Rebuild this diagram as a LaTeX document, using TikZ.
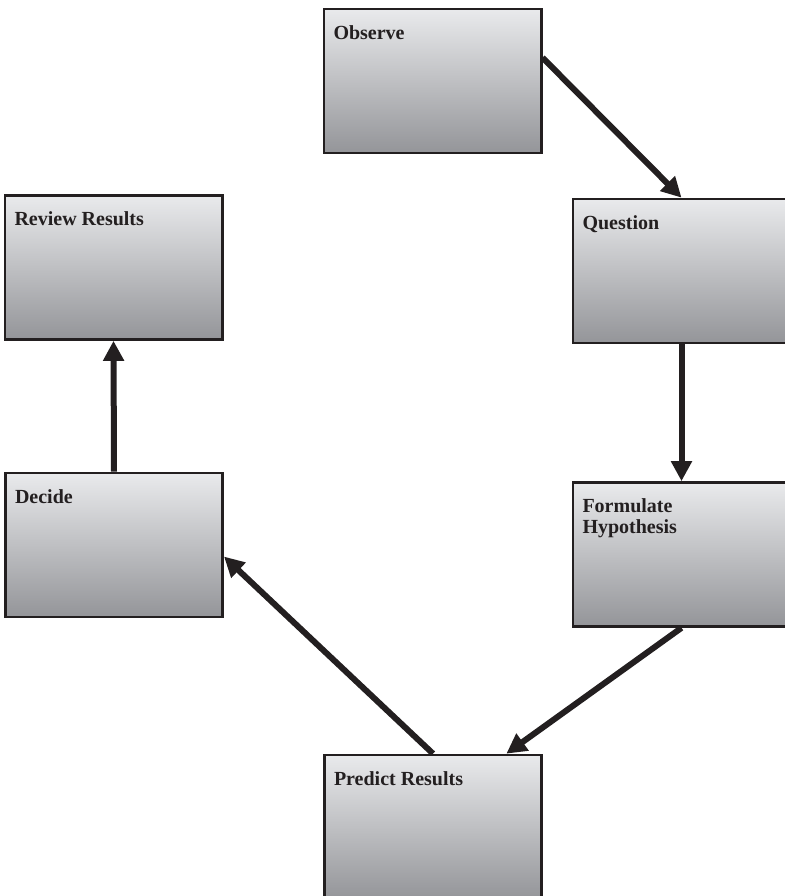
\documentclass[tikz,border=0pt]{standalone}
\usepackage{fontspec}
\setmainfont{Liberation Serif}
\usepackage{tikz}
\usetikzlibrary{arrows.meta}

\definecolor{boxtop}{RGB}{233,234,236}
\definecolor{boxbottom}{RGB}{148,149,153}
\definecolor{ink}{RGB}{35,31,32}

\begin{document}
\begin{tikzpicture}[x=0.75pt,y=-0.75pt,->,>={Triangle[length=15pt,width=15pt]},line width=4.5pt,
  step text/.style={anchor=north west,inner xsep=6pt,inner ysep=11pt,align=left,font=\fontsize{15}{15.5}\selectfont\bfseries,text=ink},
  step node/.style={rectangle,draw=ink,line width=2pt,top color=boxtop,bottom color=boxbottom,minimum width=163pt,minimum height=108pt,inner sep=0pt,label={[step text]north west:#1}}]

        \useasboundingbox (0,0) rectangle (785,896);
        \clip (0,0) rectangle (785,896);

        \node[step node=Observe] (obs) at (432.5,81) {};
        \node[step node=Question] (quest) at (681.5,271) {};
        \node[step node={Formulate\\Hypothesis}] (form) at (681.5,554.5) {};
        \node[step node={Predict Results}] (pred) at (433,827) {};
        \node[step node=Decide] (dec) at (114,545) {};
        \node[step node={Review Results}] (rev) at (113.5,267.5) {};

        \path[every edge/.append style={draw=ink}]
        (obs.12) edge (quest.north)
        (quest.south) edge (form.north)
        (form.south) edge (pred.45)
        (pred.north) edge (dec.-6)
        (dec.north) edge (rev.south);
    \end{tikzpicture}
\end{document}
